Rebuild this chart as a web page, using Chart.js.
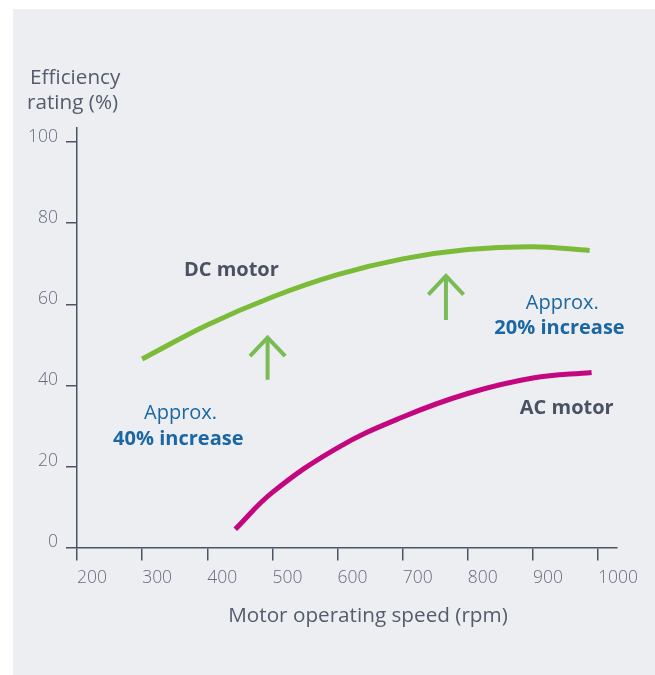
<!DOCTYPE html>
<html><head><meta charset="utf-8">
<script src="https://cdn.jsdelivr.net/npm/chart.js@4/dist/chart.umd.min.js"></script>
<style>
html,body{margin:0;padding:0;background:#fff;}
#wrap{position:relative;width:655px;height:675px;overflow:hidden;}
#panel{position:absolute;left:13px;top:9px;right:0;bottom:0;background:#EDEEF2;}
canvas{position:absolute;left:0;top:0;}
</style></head><body>
<div id="wrap"><div id="panel"></div><canvas id="c" width="655" height="675"></canvas></div>
<script>
// ---- data ----
const xTicks = [200, 300, 400, 500, 600, 700, 800, 900, 1000];
const yTicks = [0, 20, 40, 60, 80, 100];

const dcSpeed = [300, 400, 500, 600, 700, 800, 900, 987];
const dcEff   = [46.5, 54.9, 61.8, 67.3, 71.2, 73.5, 74.2, 73.3];

const acSpeed = [443, 500, 600, 700, 800, 900, 990];
const acEff   = [4.5, 13.6, 24.6, 32.2, 38.0, 41.8, 43.2];

const arrowSpeed = [492.6, 766.4];
const arrowBase  = [41.4, 56.1];
const arrowTip   = [51.8, 67.0];

const noteText  = ['DC motor', 'Approx.', '40% increase', 'Approx.', '20% increase', 'AC motor'];
const noteSpeed = [437, 359, 355.5, 945, 940.7, 951.8];
const noteEff   = [66.9, 31.7, 25.3, 58.8, 52.7, 32.9];

// ---- styles ----
const FONT = '"Open Sans", "Noto Sans", sans-serif';
const AXIS = '#4B5465';
const TICKC = '#656D7D';
const DARK = '#4A5262';
const BLUE = '#1A67A3';
const GREEN = '#7BBB38';
const ARROW = '#79BC55';
const MAGENTA = '#C4077E';
const noteStyle = [
  {color: DARK, weight: 'bold'},
  {color: BLUE, weight: 'normal'},
  {color: BLUE, weight: 'bold'},
  {color: BLUE, weight: 'normal'},
  {color: BLUE, weight: 'bold'},
  {color: DARK, weight: 'bold'}
];
const headDx = 27, headDy = 4.6;

const zip = (xs, ys) => xs.map((x, i) => ({x, y: ys[i]}));

const datasets = [
  {data: zip(dcSpeed, dcEff), borderColor: GREEN, borderWidth: 5, tension: 0.4, pointRadius: 0, borderCapStyle: 'butt'},
  {data: zip(acSpeed, acEff), borderColor: MAGENTA, borderWidth: 5, tension: 0.4, pointRadius: 0, borderCapStyle: 'butt'}
];
arrowSpeed.forEach((s, i) => {
  datasets.push({data: [{x: s, y: arrowBase[i]}, {x: s, y: arrowTip[i]}], borderColor: ARROW, borderWidth: 4, pointRadius: 0, tension: 0});
  datasets.push({data: [{x: s - headDx, y: arrowTip[i] - headDy}, {x: s, y: arrowTip[i]}, {x: s + headDx, y: arrowTip[i] - headDy}],
    borderColor: ARROW, borderWidth: 4, pointRadius: 0, tension: 0, borderJoinStyle: 'miter'});
});

const textPlugin = {
  id: 'texts',
  afterDatasetsDraw(chart) {
    const ctx = chart.ctx, xs = chart.scales.x, ys = chart.scales.y;
    ctx.save();
    ctx.textBaseline = 'alphabetic';
    // y tick labels
    ctx.font = '300 17.5px ' + FONT;
    ctx.fillStyle = TICKC;
    ctx.textAlign = 'right';
    yTicks.forEach(v => ctx.fillText(String(v), 58, ys.getPixelForValue(v) - 0.5));
    // annotations
    noteText.forEach((t, i) => {
      ctx.font = noteStyle[i].weight + ' 20px ' + FONT;
      ctx.fillStyle = noteStyle[i].color;
      ctx.textAlign = 'center';
      ctx.fillText(t, xs.getPixelForValue(noteSpeed[i]), ys.getPixelForValue(noteEff[i]));
    });
    // axis titles
    ctx.font = 'normal 20.7px ' + FONT;
    ctx.fillStyle = '#535C6C';
    ctx.textAlign = 'left';
    ctx.fillText('Efficiency', 30, 84);
    ctx.fillText('rating (%)', 27, 109);
    ctx.textAlign = 'center';
    ctx.fillText('Motor operating speed (rpm)', 368, 622);
    ctx.restore();
  }
};

const zeroPad = s => { s.paddingLeft = 0; s.paddingRight = 0; s.paddingTop = 0; s.paddingBottom = 0; };

new Chart(document.getElementById('c'), {
  type: 'line',
  data: {datasets},
  options: {
    responsive: false,
    animation: false,
    layout: {padding: {top: 128, right: 38, left: 0, bottom: 0}},
    plugins: {legend: {display: false}, tooltip: {enabled: false}},
    scales: {
      x: {
        type: 'linear', min: 200, max: 1029,
        afterBuildTicks: s => { s.ticks = xTicks.map(v => ({value: v})); },
        afterFit: s => { s.height = 127.5; zeroPad(s); },
        ticks: {align: 'start', padding: 7, color: TICKC, autoSkip: false, maxRotation: 0,
          font: {family: FONT, size: 17.5, weight: 300}, callback: v => String(v)},
        grid: {drawOnChartArea: false, drawTicks: true, tickLength: 13, color: AXIS, lineWidth: 1.5},
        border: {display: true, color: AXIS, width: 1.5}
      },
      y: {
        type: 'linear', min: 0, max: 103.5,
        afterBuildTicks: s => { s.ticks = yTicks.map(v => ({value: v})); },
        afterFit: s => { s.width = 77; zeroPad(s); },
        ticks: {display: false},
        grid: {drawOnChartArea: false, drawTicks: true, tickLength: 11, color: AXIS, lineWidth: 1.5},
        border: {display: true, color: AXIS, width: 1.5}
      }
    }
  },
  plugins: [textPlugin]
});
</script>
</body></html>
